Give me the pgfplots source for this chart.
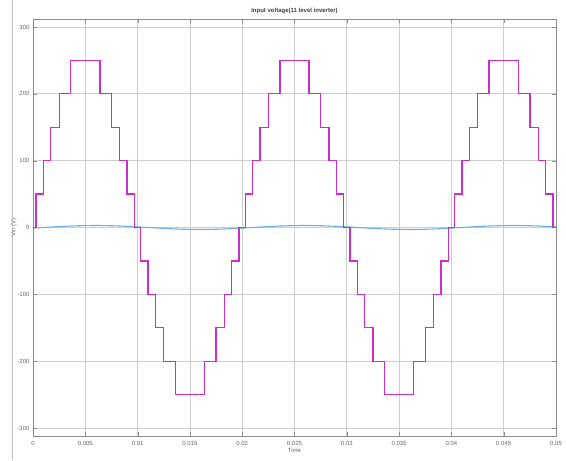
\documentclass[border=0pt]{standalone}
\usepackage{fontspec}
\setmainfont{Liberation Sans}
\usepackage{pgfplots}
\pgfplotsset{compat=1.18}
\definecolor{mag}{RGB}{205,45,205}
\definecolor{cur}{RGB}{110,175,215}
\definecolor{gridc}{RGB}{205,205,205}
\begin{document}
\begin{tikzpicture}
\begin{axis}[
  scale only axis, width=523pt, height=417pt,
  xmin=0, xmax=0.05, ymin=-312, ymax=312,
  scaled x ticks=false,
  xtick={0,0.005,0.01,0.015,0.02,0.025,0.03,0.035,0.04,0.045,0.05},
  xticklabels={0,0.005,0.01,0.015,0.02,0.025,0.03,0.035,0.04,0.045,0.05},
  ytick={-300,-200,-100,0,100,200,300},
  grid=major, major grid style={gridc, line width=0.8pt},
  axis line style={black!45, line width=0.8pt},
  tick style={black!45}, tick align=inside, major tick length=4pt,
  tick label style={font=\fontsize{6}{7}\selectfont, text=black!60},
  xticklabel style={yshift=-2pt},
  /pgf/number format/assume math mode=true,
  title={Input voltage(11 level inverter)},
  title style={font=\bfseries\fontsize{6}{7}\selectfont, yshift=-4pt, text=black!75},
  xlabel={Time}, ylabel={Vin (V)},
  xlabel style={font=\fontsize{6}{7}\selectfont, yshift=4pt, text=black!60},
  ylabel style={font=\fontsize{6}{7}\selectfont, yshift=-6pt, text=black!60},
]
\addplot[cur, line width=1.1pt] coordinates {
(0,-0.93)(0.001,0)(0.002,0.93)(0.003,1.76)(0.004,2.43)(0.005,2.85)(0.006,3)(0.007,2.85)(0.008,2.43)(0.009,1.76)
(0.010,0.93)(0.011,0)(0.012,-0.93)(0.013,-1.76)(0.014,-2.43)(0.015,-2.85)(0.016,-3)(0.017,-2.85)(0.018,-2.43)(0.019,-1.76)
(0.020,-0.93)(0.021,0)(0.022,0.93)(0.023,1.76)(0.024,2.43)(0.025,2.85)(0.026,3)(0.027,2.85)(0.028,2.43)(0.029,1.76)
(0.030,0.93)(0.031,0)(0.032,-0.93)(0.033,-1.76)(0.034,-2.43)(0.035,-2.85)(0.036,-3)(0.037,-2.85)(0.038,-2.43)(0.039,-1.76)
(0.040,-0.93)(0.041,0)(0.042,0.93)(0.043,1.76)(0.044,2.43)(0.045,2.85)(0.046,3)(0.047,2.85)(0.048,2.43)(0.049,1.76)(0.050,0.93)
};
\addplot[mag, line width=1.3pt, const plot, line join=miter] coordinates {
(0,0)(0.0003,50)(0.001,100)(0.0017,150)(0.0025,200)(0.0036,250)(0.0064,200)(0.0075,150)(0.0083,100)(0.009,50)(0.0097,0)
(0.0103,-50)(0.011,-100)(0.0117,-150)(0.0125,-200)(0.0136,-250)(0.0164,-200)(0.0175,-150)(0.0183,-100)(0.019,-50)(0.0197,0)
(0.0203,50)(0.021,100)(0.0217,150)(0.0225,200)(0.0236,250)(0.0264,200)(0.0275,150)(0.0283,100)(0.029,50)(0.0297,0)
(0.0303,-50)(0.031,-100)(0.0317,-150)(0.0325,-200)(0.0336,-250)(0.0364,-200)(0.0375,-150)(0.0383,-100)(0.039,-50)(0.0397,0)
(0.0403,50)(0.041,100)(0.0417,150)(0.0425,200)(0.0436,250)(0.0464,200)(0.0475,150)(0.0483,100)(0.049,50)(0.0497,0)(0.05,0)
};
\end{axis}
\draw[black!25, line width=0.8pt] ([xshift=-21pt,yshift=-24pt]current axis.south west) -- ([xshift=-21pt,yshift=19pt]current axis.north west);
\pgfresetboundingbox
\useasboundingbox ([xshift=-33pt,yshift=-24pt]current axis.south west) rectangle ([xshift=10pt,yshift=19pt]current axis.north east);
\end{tikzpicture}
\end{document}
